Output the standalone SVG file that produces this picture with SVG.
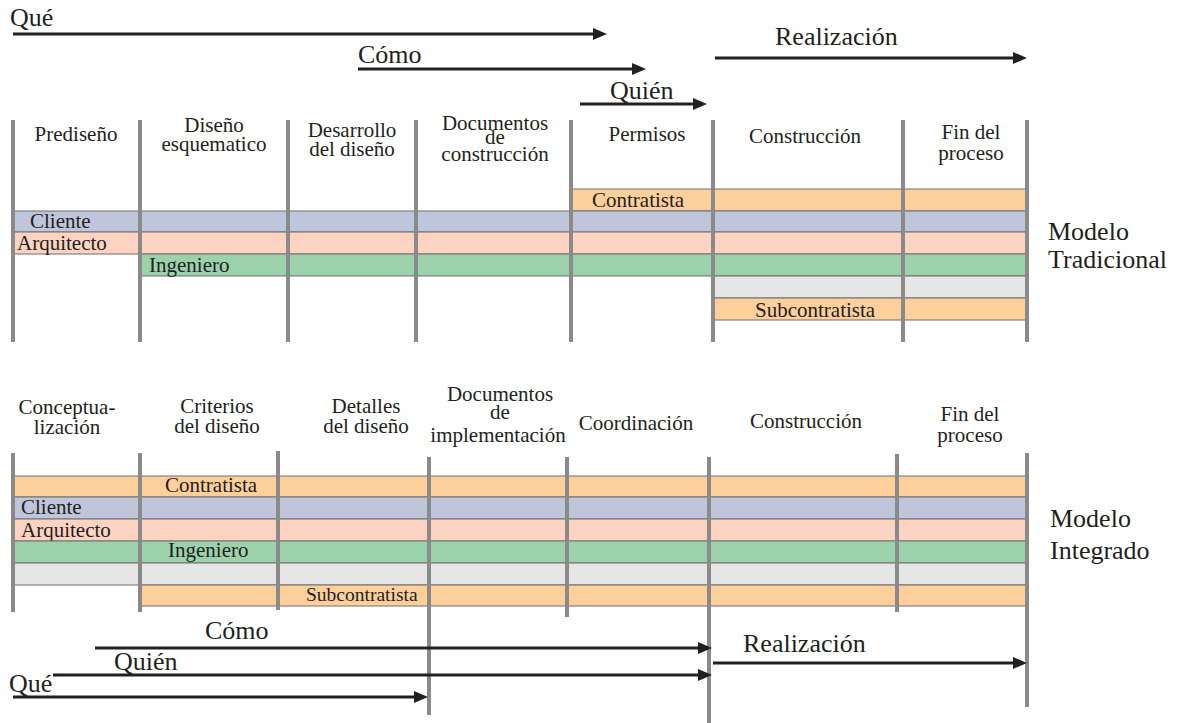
<svg xmlns="http://www.w3.org/2000/svg" width="1185" height="723" viewBox="0 0 1185 723">
<defs>
<style>
text{font-family:"Liberation Serif","Times New Roman",serif;fill:#231f20}
.h{font-size:21px;text-anchor:middle}
.l{font-size:21px}
.a{font-size:26px}
.m{font-size:26px}
.vl{stroke:#8a8a8a;stroke-width:4;fill:none}
.ar{stroke:#231f20;stroke-width:3;fill:none;marker-end:url(#ah)}
.b{stroke:#6e6e6e;stroke-width:1}
.or{fill:#fdcf9b}
.bl{fill:#bfc5da}
.pk{fill:#fdd3c2}
.gr{fill:#9cd2ab}
.gy{fill:#e6e6e6}
</style>
<marker id="ah" markerUnits="userSpaceOnUse" markerWidth="14" markerHeight="12" refX="10" refY="6" orient="auto">
<path d="M0,0 L14,6 L0,12 Z" fill="#231f20"/>
</marker>
</defs>
<rect width="1185" height="723" fill="#fff"/>

<!-- Traditional model -->
<g id="trad-bands">
<g id="t-contratista"><rect class="b or" x="571" y="189" width="456" height="22"/><text class="l" x="592" y="207">Contratista</text></g>
<g id="t-cliente"><rect class="b bl" x="13" y="211" width="1014" height="21"/><text class="l" x="30" y="228">Cliente</text></g>
<g id="t-arquitecto"><rect class="b pk" x="13" y="232" width="1014" height="22"/><text class="l" x="17" y="250">Arquitecto</text></g>
<g id="t-ingeniero"><rect class="b gr" x="140" y="254" width="887" height="22"/><text class="l" x="149" y="272">Ingeniero</text></g>
<g id="t-gris"><rect class="b gy" x="713" y="276" width="314" height="22"/></g>
<g id="t-subcontratista"><rect class="b or" x="713" y="298" width="314" height="22"/><text class="l" x="755" y="317">Subcontratista</text></g>
</g>
<g id="trad-lines">
<line class="vl" x1="13" y1="120" x2="13" y2="342"/>
<line class="vl" x1="140" y1="120" x2="140" y2="342"/>
<line class="vl" x1="288" y1="120" x2="288" y2="342"/>
<line class="vl" x1="416" y1="120" x2="416" y2="342"/>
<line class="vl" x1="571" y1="120" x2="571" y2="342"/>
<line class="vl" x1="713" y1="120" x2="713" y2="342"/>
<line class="vl" x1="903" y1="120" x2="903" y2="342"/>
<line class="vl" x1="1027" y1="120" x2="1027" y2="342"/>
</g>
<g id="t-h1"><text class="h" x="76" y="141">Prediseño</text></g>
<g id="t-h2"><text class="h" x="214" y="132">Diseño</text><text class="h" x="214" y="151">esquematico</text></g>
<g id="t-h3"><text class="h" x="352" y="137">Desarrollo</text><text class="h" x="352" y="156">del diseño</text></g>
<g id="t-h4"><text class="h" x="495" y="130">Documentos</text><text class="h" x="495" y="144">de</text><text class="h" x="495" y="161">construcción</text></g>
<g id="t-h5"><text class="h" x="647" y="141">Permisos</text></g>
<g id="t-h6"><text class="h" x="805" y="143">Construcción</text></g>
<g id="t-h7"><text class="h" x="971" y="139">Fin del</text><text class="h" x="971" y="160">proceso</text></g>
<g id="t-modelo"><text class="m" x="1048" y="240">Modelo</text><text class="m" x="1048" y="268">Tradicional</text></g>

<!-- Integrated model -->
<g id="int-bands">
<g id="i-contratista"><rect class="b or" x="13" y="476" width="1014" height="21"/><text class="l" x="165" y="492">Contratista</text></g>
<g id="i-cliente"><rect class="b bl" x="13" y="497" width="1014" height="22"/><text class="l" x="21" y="514">Cliente</text></g>
<g id="i-arquitecto"><rect class="b pk" x="13" y="519" width="1014" height="22"/><text class="l" x="21" y="537">Arquitecto</text></g>
<g id="i-ingeniero"><rect class="b gr" x="13" y="541" width="1014" height="22"/><text class="l" x="168" y="557">Ingeniero</text></g>
<g id="i-gris"><rect class="b gy" x="13" y="563" width="1014" height="22"/></g>
<g id="i-subcontratista"><rect class="b or" x="140" y="585" width="887" height="21"/><text class="l" x="306" y="601" style="font-size:19.5px">Subcontratista</text></g>
</g>
<g id="int-lines">
<line class="vl" x1="13" y1="453" x2="13" y2="612"/>
<line class="vl" x1="140" y1="453" x2="140" y2="612"/>
<line class="vl" x1="278" y1="451" x2="278" y2="610"/>
<line class="vl" x1="429" y1="457" x2="429" y2="715"/>
<line class="vl" x1="567" y1="457" x2="567" y2="617"/>
<line class="vl" x1="709" y1="457" x2="709" y2="723"/>
<line class="vl" x1="897" y1="454" x2="897" y2="612"/>
<line class="vl" x1="1027" y1="453" x2="1027" y2="707"/>
</g>
<g id="i-h1"><text class="h" x="67" y="414">Conceptua-</text><text class="h" x="67" y="434">lización</text></g>
<g id="i-h2"><text class="h" x="217" y="413">Criterios</text><text class="h" x="217" y="433">del diseño</text></g>
<g id="i-h3"><text class="h" x="366" y="413">Detalles</text><text class="h" x="366" y="433">del diseño</text></g>
<g id="i-h4"><text class="h" x="500" y="401">Documentos</text><text class="h" x="500" y="419">de</text><text class="h" x="498" y="442">implementación</text></g>
<g id="i-h5"><text class="h" x="636" y="430">Coordinación</text></g>
<g id="i-h6"><text class="h" x="806" y="428">Construcción</text></g>
<g id="i-h7"><text class="h" x="970" y="421">Fin del</text><text class="h" x="970" y="442">proceso</text></g>
<g id="i-modelo"><text class="m" x="1050" y="527">Modelo</text><text class="m" x="1050" y="559">Integrado</text></g>

<!-- Connectors -->
<g id="connectors">
<line class="ar" x1="13" y1="34" x2="603" y2="34"/>
<line class="ar" x1="358" y1="69" x2="642" y2="69"/>
<line class="ar" x1="580" y1="104" x2="703" y2="104"/>
<line class="ar" x1="715" y1="58" x2="1023" y2="58"/>
<line class="ar" x1="95" y1="648" x2="708" y2="648"/>
<line class="ar" x1="53" y1="675" x2="708" y2="675"/>
<line class="ar" x1="13" y1="697" x2="424" y2="697"/>
<line class="ar" x1="713" y1="663" x2="1023" y2="663"/>
</g>
<g id="arrow-labels">
<text class="a" x="10" y="26">Qué</text>
<text class="a" x="358" y="63">Cómo</text>
<text class="a" x="610" y="99">Quién</text>
<text class="a" x="775" y="45">Realización</text>
<text class="a" x="205" y="639">Cómo</text>
<text class="a" x="114" y="670">Quién</text>
<text class="a" x="9" y="692">Qué</text>
<text class="a" x="743" y="652">Realización</text>
</g>
</svg>
